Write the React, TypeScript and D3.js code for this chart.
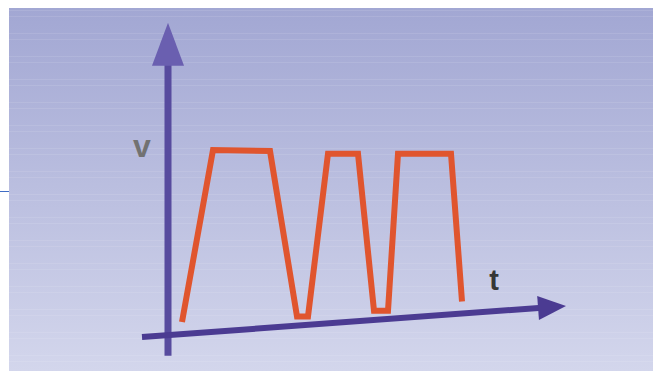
import * as d3 from 'd3';
import { useEffect, useRef } from 'react';

// velocity / time trace (t in time units, v in % of top speed)
const times = [0, 31, 88, 115, 126, 146, 176, 192, 206, 216, 269, 280];
const speeds = [8, 100, 99.5, 11, 11, 98, 98, 14, 14, 98, 98, 19];

// axes, in the same units
const vAxisT = -14;
const vAxisRange = [-10, 168];
const tAxisStart = [-40, 0];
const tAxisEnd = [384, 16.6];

const labels = [
  { text: 'v', t: -40, v: 96, color: '#727272', size: 32 },
  { text: 't', t: 312, v: 25, color: '#363636', size: 29 },
];

export default function App() {
  const svgRef = useRef<SVGSVGElement>(null);

  useEffect(() => {
    drawChart(svgRef.current!);
  }, [svgRef]);

  return (
    <svg ref={svgRef} style={{ position: 'absolute', left: 0, top: 0 }}></svg>
  );
}

function drawChart(el: SVGSVGElement) {
  const w = 662;
  const h = 371;

  const x = d3.scaleLinear().domain([0, 280]).range([182, 462]);
  const y = d3.scaleLinear().domain([0, 100]).range([337, 150]);

  const svg = d3.select(el).attr('width', w).attr('height', h);
  svg.selectAll('*').remove();

  svg.append('rect').attr('width', w).attr('height', h).attr('fill', '#fff');

  const defs = svg.append('defs');
  const grad = defs.append('linearGradient')
    .attr('id', 'bg')
    .attr('x1', 0).attr('y1', 0).attr('x2', 0).attr('y2', 1);
  grad.append('stop').attr('offset', '0%').attr('stop-color', '#a2a7d3');
  grad.append('stop').attr('offset', '100%').attr('stop-color', '#d3d6ec');

  svg.append('rect')
    .attr('x', 9).attr('y', 8)
    .attr('width', 644).attr('height', h - 8)
    .attr('fill', 'url(#bg)');

  // faint scan stripes
  const stripes = d3.range(10, h, 23);
  svg.append('g')
    .selectAll('line')
    .data(stripes.flatMap(s => [s, s + 6]))
    .enter()
    .append('line')
    .attr('x1', 9).attr('x2', 653)
    .attr('y1', d => d + 0.5).attr('y2', d => d + 0.5)
    .attr('stroke', '#fff')
    .attr('stroke-opacity', 0.1)
    .attr('stroke-width', 1);

  // stray line at left edge
  svg.append('rect')
    .attr('x', 0).attr('y', 191)
    .attr('width', 9).attr('height', 1)
    .attr('fill', '#3f6cc4');

  // vertical axis
  const vx = x(vAxisT);
  svg.append('line')
    .attr('x1', vx).attr('x2', vx)
    .attr('y1', y(vAxisRange[0])).attr('y2', y(146))
    .attr('stroke', '#574b9e')
    .attr('stroke-width', 7);
  const vtip = y(vAxisRange[1]);
  svg.append('path')
    .attr('d', `M${vx},${vtip} L${vx + 16},${vtip + 43} L${vx - 16},${vtip + 43} Z`)
    .attr('fill', '#6a5fb0');

  // horizontal axis
  const x0 = x(tAxisStart[0]), y0 = y(tAxisStart[1]);
  const x1 = x(tAxisEnd[0]), y1 = y(tAxisEnd[1]);
  const ang = Math.atan2(y1 - y0, x1 - x0) * 180 / Math.PI;
  const len = Math.hypot(x1 - x0, y1 - y0);
  const ax = svg.append('g')
    .attr('transform', `translate(${x0},${y0}) rotate(${ang})`);
  ax.append('line')
    .attr('x1', 0).attr('x2', len - 24)
    .attr('y1', 0).attr('y2', 0)
    .attr('stroke', '#4b3b92')
    .attr('stroke-width', 6);
  ax.append('path')
    .attr('d', `M${len},0 L${len - 28},-12 L${len - 28},12 Z`)
    .attr('fill', '#4b3b92');

  // velocity trace
  const line = d3.line<number>()
    .x((_, i) => x(times[i]))
    .y(d => y(d));

  svg.append('path')
    .datum(speeds)
    .attr('d', line)
    .attr('fill', 'none')
    .attr('stroke', '#e0552e')
    .attr('stroke-width', 6)
    .attr('stroke-linejoin', 'miter');

  svg.selectAll('text.lbl')
    .data(labels)
    .enter()
    .append('text')
    .attr('class', 'lbl')
    .attr('x', d => x(d.t))
    .attr('y', d => y(d.v))
    .attr('text-anchor', 'middle')
    .attr('font-family', 'Liberation Sans, Arial, sans-serif')
    .attr('font-weight', 'bold')
    .attr('font-size', d => d.size)
    .attr('fill', d => d.color)
    .text(d => d.text);
}
